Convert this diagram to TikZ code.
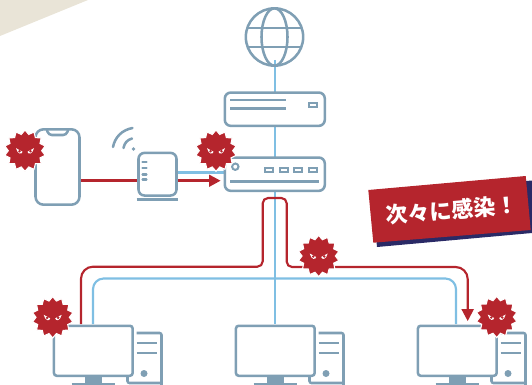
\documentclass[tikz,border=0pt]{standalone}
\usepackage{fontspec}
\newfontfamily\cjk{Noto Sans CJK JP}
\usetikzlibrary{shapes.geometric,arrows.meta}
\definecolor{slate}{HTML}{7F9FB4}
\definecolor{sky}{HTML}{7FBFE3}
\definecolor{crim}{HTML}{B5252D}
\definecolor{navy}{HTML}{2A2A66}
\definecolor{beige}{HTML}{E9E4D7}
\tikzset{
  dev/.style={draw=slate,line width=1.9pt,fill=white,rounded corners=4.5pt},
  thin slate/.style={draw=slate,line width=1.9pt},
  blueline/.style={draw=sky,line width=1.6pt,rounded corners=8pt},
  redline/.style={draw=crim,line width=1.6pt,rounded corners=4pt},
  virus/.style={star,star points=14,star point ratio=1.24,minimum size=31pt,inner sep=0pt,fill=crim,draw=white,line width=0.8pt},
  port/.style={draw=slate,line width=1.5pt,fill=white,minimum width=6pt,minimum height=2.8pt,inner sep=0pt},
}
\newcommand{\viruspic}[3]{%
  \node[virus] (#1) at (#2,#3) {};
  \fill[white] (#2-9,#3-2.5) -- (#2-2.5,#3+1) .. controls (#2-3,#3+4) and (#2-7.5,#3+4) .. cycle;
  \fill[white] (#2+9,#3-2.5) -- (#2+2.5,#3+1) .. controls (#2+3,#3+4) and (#2+7.5,#3+4) .. cycle;
  \fill[crim] (#2-5.5,#3+0.5) circle (1.4);
  \fill[crim] (#2+5.5,#3+0.5) circle (1.4);
}
\newcommand{\pcpic}[2]{%
  \draw[thin slate,rounded corners=1.5pt] (#1+84,#2+9) -- (#1+109,#2+9) -- (#1+109,#2+66);
  \draw[thin slate,rounded corners=1.5pt] (#1+75,#2+53) -- (#1+75,#2+59) -- (#1+109,#2+59);
  \draw[thin slate,line width=2.2pt] (#1+84,#2+19) -- (#1+104,#2+19) (#1+84,#2+29) -- (#1+104,#2+29);
  \fill[slate] (#1+91.5,#2+49.5) circle (3.5);
  \fill[slate] (#1+32,#2+50) rectangle (#1+49,#2+66);
  \draw[thin slate] (#1+19,#2+60) -- (#1+62,#2+60);
}
\begin{document}
\begin{tikzpicture}[x=0.75pt,y=-0.75pt]
\useasboundingbox (0,0) rectangle (532,385);
% corner
\fill[beige] (0,0) -- (88,0) -- (0,36) -- cycle;
% banner
\fill[navy] (372,194) -- (532,180.5) -- (532,233) -- (377,247) -- cycle;
\fill[crim] (368.3,190) -- (525.7,176) -- (530.7,230) -- (373.3,242.7) -- cycle;
\node[rotate=4.8,text=white,inner sep=0pt,font=\cjk\bfseries\fontsize{16.5pt}{18pt}\selectfont] (label) at (452,210) {次々に感染！};
% light connectors
\coordinate (busL) at (93,324);
\coordinate (busR) at (456,324);
\coordinate (busT) at (275,278.5);
\draw[blueline] (busL) -- (93,278.5) -- (busT) -- (456,278.5) -- (busR);
\draw[blueline] (275,60) -- (275,324);
\draw[draw=sky,line width=2.5pt] (172,172.5) -- (226,172.5);
% red connectors
\draw[redline] (81,324) [rounded corners=9pt] -- (81,266.7) -- (200,266.7) [rounded corners=4pt] -- (262.7,266.7) -- (262.7,198) -- (286.7,198) -- (286.7,267) -- (400,267) [rounded corners=9pt] -- (467.7,267) -- (467.7,310);
\fill[crim] (467.7,321) -- (461.3,309) -- (474,309) -- cycle;
\draw[redline,line width=1.9pt] (80,180.7) -- (140,180.7);
\draw[redline,line width=1.9pt] (174,180.7) -- (211,180.7);
\fill[crim] (220.5,180.7) -- (209,174.5) -- (209,187) -- cycle;
% globe
\node[circle,draw=slate,line width=1.9pt,minimum size=43pt,inner sep=0pt] (globe) at (274.5,37) {};
\node[ellipse,draw=slate,line width=1.9pt,minimum width=19.5pt,minimum height=43pt,inner sep=0pt] (globein) at (274.5,37) {};
\draw[thin slate] (248,28) -- (301,28) (248,47) -- (301,47);
% modem
\node[dev,minimum width=75pt,minimum height=25pt,inner sep=0pt] (modem) at (274.8,109.2) {};
\draw[thin slate,line width=2pt] (230,100) -- (286,100) (230,108.7) -- (286,108.7);
\node[port] (mp) at (312.7,105) {};
% router
\node[dev,minimum width=75pt,minimum height=25pt,inner sep=0pt] (router) at (274.8,174.2) {};
\draw[slate,line width=1.5pt] (235.3,166.7) circle (3.2);
\foreach \x/\n in {269/a,284/b,298/c,312.7/d} \node[port] (p\n) at (\x,170) {};
\draw[thin slate] (230,181.5) -- (319,181.5);
% phone
\node[dev,rounded corners=6pt,fill=none,minimum width=33pt,minimum height=56.5pt,inner sep=0pt] (phone) at (57.5,167) {};
\draw[thin slate,rounded corners=2.5pt] (46.7,129) -- (48.5,135) -- (66.5,135) -- (68.3,129);
% access point
\node[dev,minimum width=28.5pt,minimum height=32pt,inner sep=0pt] (ap) at (157.5,174.2) {};
\draw[thin slate,line width=2.2pt] (136.7,199.7) -- (178,199.7);
\foreach \y in {161.7,168,174.5,179.5} \draw[slate,line width=1.6pt,line cap=round] (142.5,\y) -- (146.5,\y);
\fill[slate] (133.5,149) circle (1.8);
\draw[thin slate,line cap=round] (123.5,148) .. controls (124.5,143) and (127,140) .. (132,138.5);
\draw[thin slate,line cap=round] (113,147) .. controls (115,137) and (122,130) .. (132.5,128);
% computers
\pcpic{52.5}{324}
\pcpic{234.5}{324}
\pcpic{416.5}{324}
\node[dev,minimum width=59pt,minimum height=37.5pt,inner sep=0pt,rounded corners=2pt,anchor=north west] (pc1) at (52.7,324.5) {};
\node[dev,minimum width=59pt,minimum height=37.5pt,inner sep=0pt,rounded corners=2pt,anchor=north west] (pc2) at (234.7,324.5) {};
\node[dev,minimum width=59pt,minimum height=37.5pt,inner sep=0pt,rounded corners=2pt,anchor=north west] (pc3) at (416.7,324.5) {};
% viruses
\viruspic{v1}{25}{150.7}
\viruspic{v2}{216}{150.7}
\viruspic{v3}{318.7}{256}
\viruspic{v4}{52.7}{317.3}
\viruspic{v5}{496.7}{317}
\end{tikzpicture}
\end{document}
